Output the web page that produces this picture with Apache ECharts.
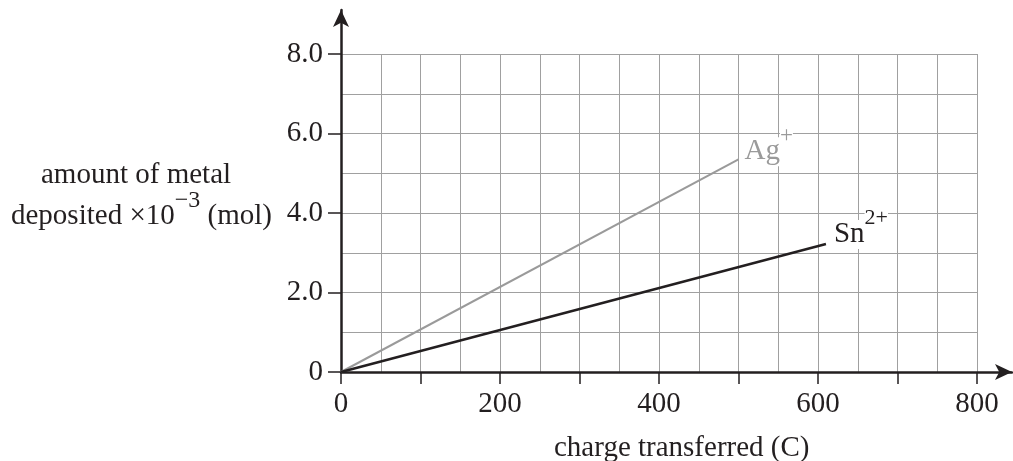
<!DOCTYPE html>
<html>
<head>
<meta charset="utf-8">
<script src="https://cdn.jsdelivr.net/npm/echarts@6/dist/echarts.min.js"></script>
<style>
html,body{margin:0;padding:0;background:#fff;}
#c{width:1013px;height:461px;}
</style>
</head>
<body>
<div id="c"></div>
<script>
// ---- data ----
const chargeAg = [0, 500];
const amountAg = [0, 5.35];
const chargeSn = [0, 610];
const amountSn = [0, 3.22];
const xMin = 0, xMax = 800, xGridStep = 50, xTickStep = 100, xLabelStep = 200;
const yMin = 0, yMax = 8, yGridStep = 1, yTickStep = 2;
const xTitle = 'charge transferred (C)';
const yTitle1 = 'amount of metal';
const agName = 'Ag', agCharge = '+';
const snName = 'Sn', snCharge = '2+';

const FONT = 'Liberation Serif';
const FS = 29;
const INK = '#231f20';
const GRIDC = '#a0a0a0';
const AGC = '#9a9a9a';

function pairs(xs, ys) { return xs.map((x, i) => [x, ys[i]]); }

const chart = echarts.init(document.getElementById('c'), null, {renderer: 'canvas'});
chart.setOption({
  animation: false,
  backgroundColor: '#fff',
  title: [
    {text: yTitle1, left: 41, top: 161, padding: 0,
     textStyle: {fontFamily: FONT, fontSize: FS, fontWeight: 'normal', color: INK}},
    {text: '{m|deposited ×10}{s|−3}{m| (mol)}', left: 11, top: 189, padding: 0,
     textStyle: {fontFamily: FONT, fontSize: FS, fontWeight: 'normal', color: INK,
       rich: {
         m: {fontFamily: FONT, fontSize: FS, color: INK, lineHeight: 42, verticalAlign: 'bottom'},
         s: {fontFamily: FONT, fontSize: 24, color: INK, verticalAlign: 'top'}
       }}},
    {text: xTitle, left: 554, top: 434, padding: 0,
     textStyle: {fontFamily: FONT, fontSize: FS, fontWeight: 'normal', color: INK}}
  ],
  grid: [
    {left: 341, right: 36, top: 54, bottom: 89, containLabel: false, outerBoundsMode: 'none'},
    {left: 341, right: 1, top: 10, bottom: 89, containLabel: false, outerBoundsMode: 'none'}
  ],
  xAxis: [
    {gridIndex: 0, type: 'value', position: 'bottom', min: xMin, max: xMax, interval: xGridStep,
     axisLine: {show: false}, axisTick: {show: false}, axisLabel: {show: false},
     splitLine: {show: true, lineStyle: {color: GRIDC, width: 1}}},
    {gridIndex: 0, type: 'value', position: 'bottom', min: xMin, max: xMax, interval: xTickStep,
     axisLine: {show: false, onZero: false},
     axisTick: {show: true, inside: false, length: 12, lineStyle: {color: INK, width: 1.5}},
     axisLabel: {show: true, margin: 18, fontFamily: FONT, fontSize: FS, color: INK,
       formatter: v => (v % xLabelStep === 0 ? String(v) : '')},
     splitLine: {show: false}},
    {gridIndex: 1, type: 'value', position: 'bottom', min: 0, max: 1,
     axisLine: {show: true, onZero: false, symbol: ['none', 'arrow'], symbolSize: [12, 17],
       lineStyle: {color: INK, width: 2.5}},
     axisTick: {show: false}, axisLabel: {show: false}, splitLine: {show: false}}
  ],
  yAxis: [
    {gridIndex: 0, type: 'value', position: 'left', min: yMin, max: yMax, interval: yGridStep,
     axisLine: {show: false}, axisTick: {show: false}, axisLabel: {show: false},
     splitLine: {show: true, lineStyle: {color: GRIDC, width: 1}}},
    {gridIndex: 0, type: 'value', position: 'left', min: yMin, max: yMax, interval: yTickStep,
     axisLine: {show: false, onZero: false},
     axisTick: {show: true, inside: false, length: 13, lineStyle: {color: INK, width: 1.5}},
     axisLabel: {show: true, margin: 18, fontFamily: FONT, fontSize: FS, color: INK,
       formatter: v => (v === 0 ? '0' : v.toFixed(1))},
     splitLine: {show: false}},
    {gridIndex: 1, type: 'value', position: 'left', min: 0, max: 1,
     axisLine: {show: true, onZero: false, symbol: ['none', 'arrow'], symbolSize: [12, 17],
       lineStyle: {color: INK, width: 2.5}},
     axisTick: {show: false}, axisLabel: {show: false}, splitLine: {show: false}}
  ],
  series: [
    {type: 'line', name: agName, xAxisIndex: 0, yAxisIndex: 0, data: pairs(chargeAg, amountAg),
     symbol: 'none', lineStyle: {color: AGC, width: 2}, silent: true, z: 5,
     endLabel: {show: true, distance: 6, offset: [0, -14],
       formatter: '{m|' + agName + '}{s|' + agCharge + '}',
       rich: {
         m: {fontFamily: FONT, fontSize: FS, color: AGC, lineHeight: 42, verticalAlign: 'bottom', backgroundColor: '#fff'},
         s: {fontFamily: FONT, fontSize: 23, color: AGC, verticalAlign: 'top', backgroundColor: '#fff'}
       }}},
    {type: 'line', name: snName, xAxisIndex: 0, yAxisIndex: 0, data: pairs(chargeSn, amountSn),
     symbol: 'none', lineStyle: {color: INK, width: 2.5}, silent: true, z: 5,
     endLabel: {show: true, distance: 8, offset: [0, -16],
       formatter: '{m|' + snName + '}{s|' + snCharge + '}',
       rich: {
         m: {fontFamily: FONT, fontSize: FS, color: INK, lineHeight: 42, verticalAlign: 'bottom', backgroundColor: '#fff'},
         s: {fontFamily: FONT, fontSize: 22, color: INK, verticalAlign: 'top', backgroundColor: '#fff'}
       }}}
  ]
});
</script>
</body>
</html>
